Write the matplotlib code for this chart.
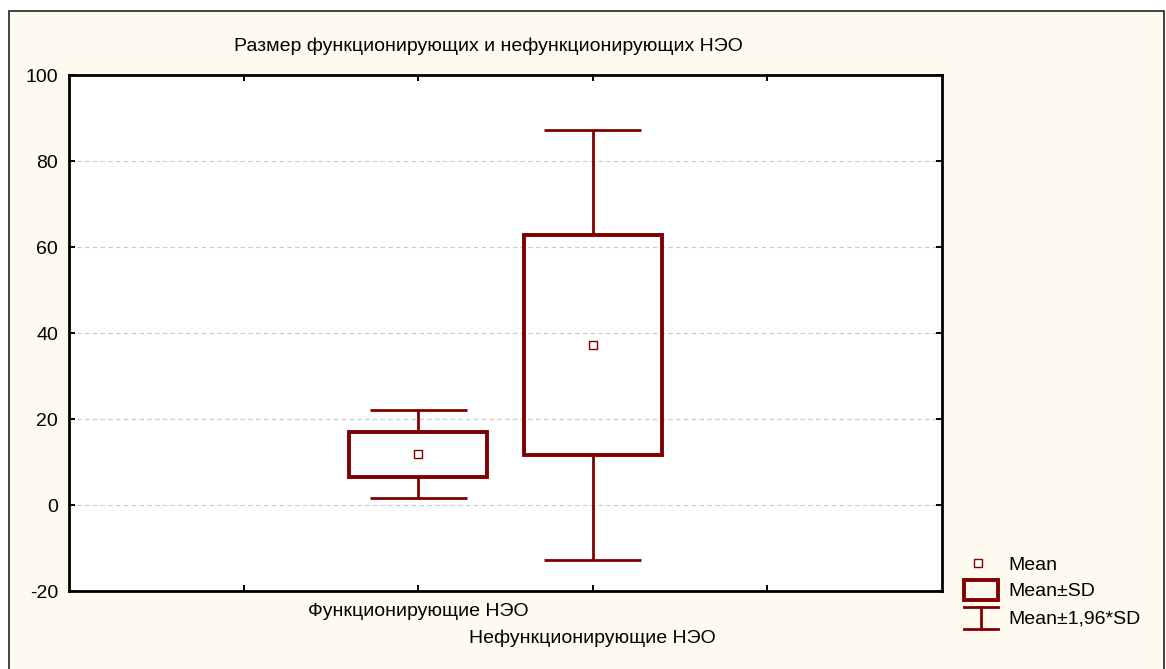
import matplotlib.pyplot as plt
from matplotlib.patches import Rectangle
from matplotlib.lines import Line2D

plt.rcParams['font.family'] = ['Liberation Sans', 'DejaVu Sans']
plt.rcParams['axes.unicode_minus'] = False

# Data
groups = ['Функционирующие НЭО', 'Нефункционирующие НЭО']
positions = [2, 3]
means = [11.8, 37.2]
sds = [5.2, 25.5]
k = 1.96

dark_red = '#800000'
cream = '#FFFAF0'

fig = plt.figure(figsize=(11.66, 6.69), dpi=100, facecolor='white')
W, H = 1166, 669

# outer frame
fig.add_artist(Rectangle((9 / W, -0.02), 1155 / W, (H - 11) / H + 0.02,
                         transform=fig.transFigure, facecolor=cream,
                         edgecolor='#222222', linewidth=1.2, zorder=0))

ax = fig.add_axes([69 / W, (H - 591) / H, (942 - 69) / W, (591 - 75) / H])
ax.set_facecolor('white')

box_half = 0.394
cap_half = 0.277
for x, m, s in zip(positions, means, sds):
    lo, hi = m - s, m + s
    wlo, whi = m - k * s, m + k * s
    ax.add_patch(Rectangle((x - box_half, lo), 2 * box_half, hi - lo,
                           facecolor='none', edgecolor=dark_red, linewidth=2.8, zorder=3))
    ax.vlines(x, hi, whi, color=dark_red, linewidth=2.0, zorder=3)
    ax.vlines(x, wlo, lo, color=dark_red, linewidth=2.0, zorder=3)
    ax.hlines([wlo, whi], x - cap_half, x + cap_half, color=dark_red, linewidth=2.0, zorder=3)
    ax.plot(x, m, marker='s', markersize=6, markerfacecolor='white',
            markeredgecolor=dark_red, markeredgewidth=1.0, zorder=4)

ax.set_xlim(0, 5)
ax.set_ylim(-20, 100)
ax.set_yticks(range(-20, 101, 20))
ax.set_xticks([1, 2, 3, 4])
ax.set_xticklabels([])
ax.yaxis.grid(True, linestyle=(0, (4, 3)), color='#c8c8c8', linewidth=0.8)
ax.set_axisbelow(True)
ax.tick_params(direction='in', length=4, width=1.4, top=True, right=True,
               labelsize=14, pad=8)
for sp in ax.spines.values():
    sp.set_linewidth(2.0)

# staggered category labels
for x, name, dy in zip(positions, groups, [611, 638]):
    fig.text(ax.transData.transform((x, 0))[0] / W, 1 - dy / H, name,
             ha='center', va='center', fontsize=14)

fig.text(488 / W, 1 - 46 / H, 'Размер функционирующих и нефункционирующих НЭО',
         ha='center', va='center', fontsize=14)

# legend, drawn by hand
tf = fig.transFigure
fig.add_artist(Line2D([978 / W], [1 - 563 / H], marker='s', markersize=6,
                      markerfacecolor='white', markeredgecolor=dark_red,
                      markeredgewidth=1.0, transform=tf))
fig.add_artist(Rectangle((964 / W, 1 - 600 / H), 34 / W, 20 / H, transform=tf,
                         facecolor='none', edgecolor=dark_red, linewidth=2.8))
fig.add_artist(Line2D([964 / W, 998 / W], [1 - 607 / H] * 2, color=dark_red, linewidth=2.0, transform=tf))
fig.add_artist(Line2D([964 / W, 998 / W], [1 - 629 / H] * 2, color=dark_red, linewidth=2.0, transform=tf))
fig.add_artist(Line2D([981 / W] * 2, [1 - 607 / H, 1 - 629 / H], color=dark_red, linewidth=2.0, transform=tf))
for label, y in zip(['Mean', 'Mean±SD', 'Mean±1,96*SD'], [565, 592, 619]):
    fig.text(1008 / W, 1 - y / H, label, ha='left', va='center', fontsize=14)

fig.savefig('out.png', dpi=100, facecolor=fig.get_facecolor())
